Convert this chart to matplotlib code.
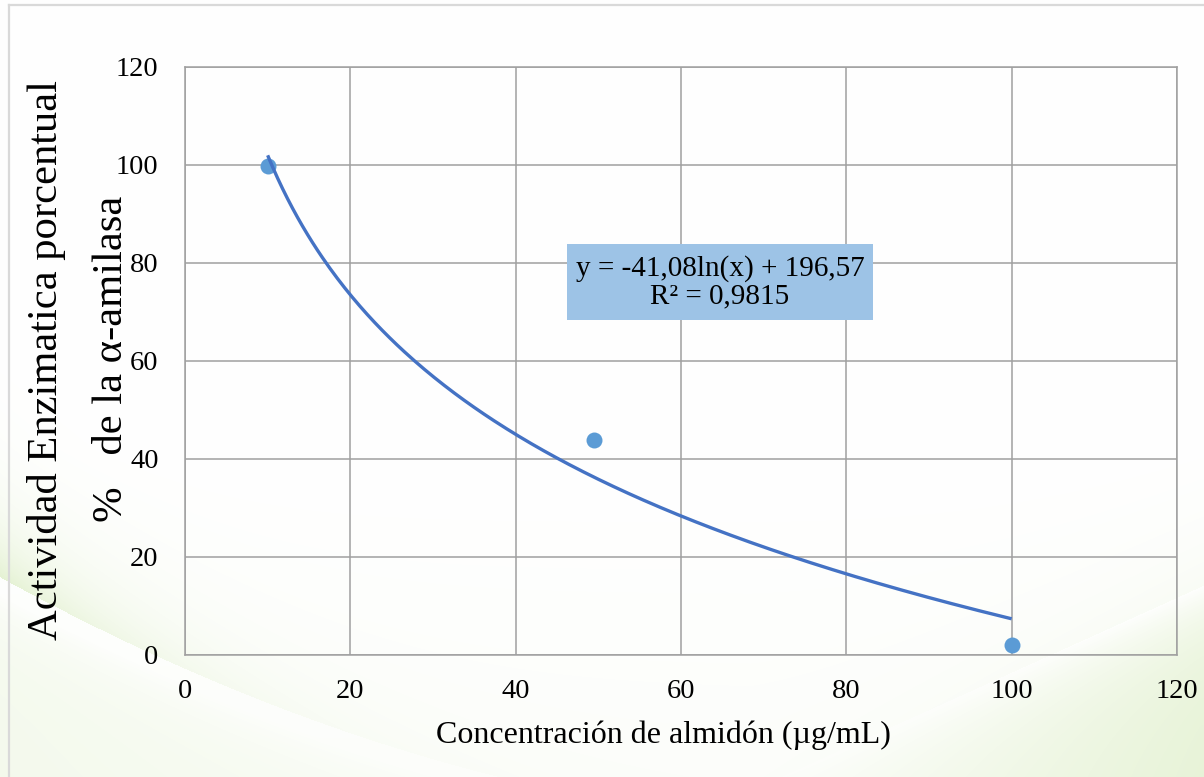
import numpy as np
import matplotlib
matplotlib.use("Agg")
import matplotlib.pyplot as plt
from matplotlib.lines import Line2D
from matplotlib.patches import Rectangle

# Measured data: starch concentration vs. percent alpha-amylase activity
concentracion = [10, 49.5, 100]
actividad = [99.7, 43.8, 2.1]

# Logarithmic trend line reported by the fit
coef_a = -41.08
coef_b = 196.57
r2 = 0.9815

x_ticks = [0, 20, 40, 60, 80, 100, 120]
y_ticks = [0, 20, 40, 60, 80, 100, 120]

W, H, DPI = 1204, 777, 100
plt.rcParams["font.family"] = ["Liberation Serif", "DejaVu Serif"]

fig = plt.figure(figsize=(W / DPI, H / DPI), dpi=DPI)
fig.patch.set_facecolor("white")

# Decorative slide background with soft green swooshes
bg = fig.add_axes([0, 0, 1, 1], zorder=-10)
X, Y = np.meshgrid(np.arange(W, dtype=float), np.arange(H, dtype=float))
g = np.zeros_like(X)
# lower-left swoosh
yc = 585 + 0.55 * X - 0.0003 * X ** 2
d = yc - Y
above = np.clip(d, 0, None)
g += np.where(d > 8, 0.55 * np.exp(-(above - 8) / 55.0) * np.exp(-X / 180.0), 0)
g += np.where(d < -8, 0.18 * (1 - np.exp(-(-d - 8) / 30.0)) * np.exp(-X / 700.0), 0)
# lower-right wedge
yl = 585 + 0.453 * (W - X)
e = Y - yl
g += np.where(e > 0, 0.45 * (1 - np.exp(-e / 45.0)) * np.clip((X - 700) / 500.0, 0, 1), 0)
g += np.where(e < 0, 0.10 * np.exp(e / 60.0) * np.clip((X - 750) / 450.0, 0, 1), 0)
# faint overall tint near the bottom
g += 0.06 * np.clip((Y - 450) / 330.0, 0, 1)
g = np.clip(g, 0, 1)
green = np.array([0.82, 0.91, 0.70])
img = 1 - g[..., None] * (1 - green[None, None, :])
bg.imshow(img, extent=[0, W, H, 0], aspect="auto", interpolation="bilinear")
bg.set_xlim(0, W)
bg.set_ylim(H, 0)
bg.axis("off")
# border at top and left of the slide
bg.add_line(Line2D([9, 9], [5, H], color="#d9d9d9", lw=1.6))
bg.add_line(Line2D([9, W], [5, 5], color="#d9d9d9", lw=1.6))

# two-line vertical axis title
bg.text(47, 360, "Actividad Enzimatica porcentual", rotation=90, fontsize=30.7,
        ha="center", va="center")
bg.text(112, 359, "%   de la α-amilasa", rotation=90, fontsize=30.7,
        ha="center", va="center")
# horizontal axis title
bg.text(663, 735, "Concentración de almidón (µg/mL)", fontsize=23,
        ha="center", va="center")

ax = fig.add_axes([185 / W, 1 - 655 / H, (1177 - 185) / W, (655 - 67) / H])
ax.set_facecolor("none")
ax.set_xlim(0, 120)
ax.set_ylim(0, 120)
ax.set_xticks(x_ticks)
ax.set_yticks(y_ticks)
ax.tick_params(length=0, labelsize=20.5, colors="black")
ax.tick_params(axis="x", pad=17)
ax.tick_params(axis="y", pad=19)
ax.grid(True, color="#a0a0a0", lw=1.1)
ax.set_axisbelow(True)
for s in ax.spines.values():
    s.set_color("#a0a0a0")
    s.set_linewidth(1.1)

xs = np.linspace(min(concentracion), max(concentracion), 300)
ax.plot(xs, coef_a * np.log(xs) + coef_b, color="#4472c4", lw=2.4, zorder=3,
        solid_capstyle="butt")
ax.plot(concentracion, actividad, "o", color="#5b9bd5", ms=11.5, mec="none",
        zorder=2, clip_on=False)

# trend line equation label
x0, x1 = (567 - 185) / 992, (873 - 185) / 992
y0, y1 = (655 - 320) / 588, (655 - 244) / 588
ax.add_patch(Rectangle((x0, y0), x1 - x0, y1 - y0, transform=ax.transAxes,
                       fc="#9dc3e6", ec="none", zorder=4))
eq = f"y = {coef_a:.2f}ln(x) + {coef_b:.2f}".replace(".", ",")
r2txt = f"R² = {r2:.4f}".replace(".", ",")
ax.text((x0 + x1) / 2, (y0 + y1) / 2, eq + "\n" + r2txt, transform=ax.transAxes,
        ha="center", va="center", fontsize=21, linespacing=1.05, zorder=5)

fig.savefig("out.png", dpi=DPI)
